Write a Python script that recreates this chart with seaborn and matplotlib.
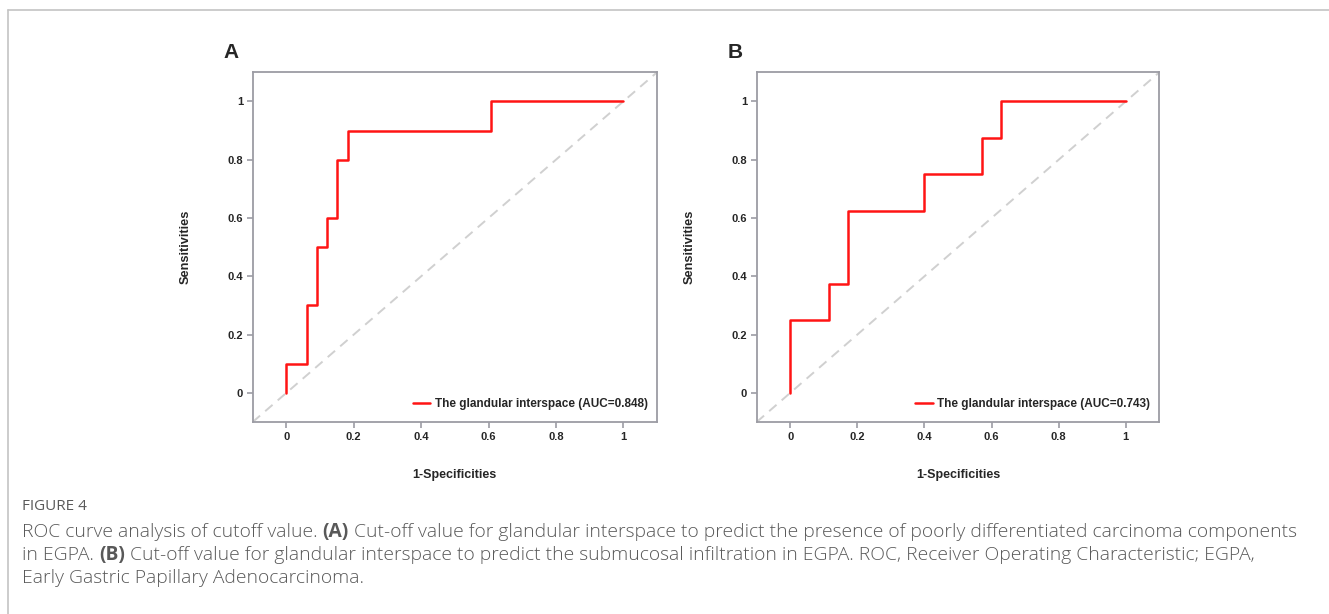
import numpy as np
import pandas as pd
import seaborn as sns
import matplotlib.pyplot as plt
from matplotlib.lines import Line2D

# ROC points (1-specificity, sensitivity)
fpr_a = [0, 0, 0.0606, 0.0606, 0.0909, 0.0909, 0.1212, 0.1212, 0.1515, 0.1515, 0.1818, 0.1818, 0.6061, 0.6061, 1.0]
tpr_a = [0, 0.1, 0.1, 0.3, 0.3, 0.5, 0.5, 0.6, 0.6, 0.8, 0.8, 0.9, 0.9, 1.0, 1.0]
fpr_b = [0, 0, 0.1143, 0.1143, 0.1714, 0.1714, 0.4, 0.4, 0.5714, 0.5714, 0.6286, 0.6286, 1.0]
tpr_b = [0, 0.25, 0.25, 0.375, 0.375, 0.625, 0.625, 0.75, 0.75, 0.875, 0.875, 1.0, 1.0]
auc_vals = [0.848, 0.743]
panel_letters = ['A', 'B']
tick_vals = [0, 0.2, 0.4, 0.6, 0.8, 1]
tick_labels = ['0', '0.2', '0.4', '0.6', '0.8', '1']

caption_title = 'FIGURE 4'
caption_lines = [
    [('ROC curve analysis of cutoff value.', False), ('(A)', True),
     ('Cut-off value for glandular interspace to predict the presence of poorly differentiated carcinoma components', False)],
    [('in EGPA.', False), ('(B)', True),
     ('Cut-off value for glandular interspace to predict the submucosal infiltration in EGPA. ROC, Receiver Operating Characteristic; EGPA,', False)],
    [('Early Gastric Papillary Adenocarcinoma.', False)],
]

sns.set_style('ticks')
plt.rcParams['font.family'] = ['Liberation Sans', 'DejaVu Sans']

W, H = 1329, 614
fig = plt.figure(figsize=(W / 100, H / 100), dpi=100)

def px(x, y):
    return x / W, 1 - y / H

axes_px = [(252.7, 72.3, 657.0, 422.0), (756.7, 72.3, 1159.3, 422.0)]
letter_px = [(231, 52), (735, 52)]
spine_col = '#9c9ca4'

for i, (fpr, tpr) in enumerate([(fpr_a, tpr_a), (fpr_b, tpr_b)]):
    x0, y0, x1, y1 = axes_px[i]
    ax = fig.add_axes([x0 / W, 1 - y1 / H, (x1 - x0) / W, (y1 - y0) / H])
    df = pd.DataFrame({'fpr': fpr, 'tpr': tpr})
    ax.plot([-0.1, 1.1], [-0.1, 1.1], color='#d0d0d0', lw=1.4, ls=(0, (5, 3.5)), zorder=1)
    sns.lineplot(data=df, x='fpr', y='tpr', sort=False, estimator=None, color='#ff1414', lw=1.8,
                 ax=ax, label='The glandular interspace (AUC={0:.3f})'.format(auc_vals[i]), zorder=3)
    ax.set_xlim(-0.1, 1.1)
    ax.set_ylim(-0.1, 1.1)
    ax.set_xticks(tick_vals)
    ax.set_xticklabels(tick_labels)
    ax.set_yticks(tick_vals)
    ax.set_yticklabels(tick_labels)
    for lab in ax.get_xticklabels() + ax.get_yticklabels():
        lab.set_fontweight('bold')
    ax.tick_params(axis='both', labelsize=8, length=4, width=1.2, color=spine_col, pad=3)
    for sp in ax.spines.values():
        sp.set_color(spine_col)
        sp.set_linewidth(1.3)
    ax.set_xlabel('1-Specificities', fontsize=9, fontweight='bold')
    ax.set_ylabel('Sensitivities', fontsize=9.2, fontweight='bold')
    ax.xaxis.set_label_coords(0.5, -0.133)
    ax.yaxis.set_label_coords(-0.151, 0.5)
    leg = ax.legend(loc='lower right', bbox_to_anchor=(0.978, 0.035), frameon=False, borderpad=0,
                    borderaxespad=0, handlelength=1.5, handletextpad=0.4, prop={'size': 8.5, 'weight': 'bold'})
    lx, ly = px(*letter_px[i])
    fig.text(lx, ly, panel_letters[i], fontsize=15, fontweight='bold', ha='center', va='center')

# frame lines of the page
border = '#c4c4c4'
fig.add_artist(Line2D([7.5 / W, 1], [1 - 9.5 / H, 1 - 9.5 / H], color=border, lw=1.2))
fig.add_artist(Line2D([7.5 / W, 7.5 / W], [0, 1 - 9.5 / H], color=border, lw=1.2))

# caption
cap_col = '#595959'
cap_font = ['Open Sans', 'DejaVu Sans']
cap_size = 13.9
tx, ty = px(22, 507)
fig.text(tx, ty, caption_title, fontsize=11, color=cap_col, family=cap_font, va='center')

fig.canvas.draw()
renderer = fig.canvas.get_renderer()

def text_w(s, bold):
    t = fig.text(0, 0, s, fontsize=cap_size, family=cap_font, fontweight='bold' if bold else 'light')
    w = t.get_window_extent(renderer).width
    t.remove()
    return w

space_w = text_w('a a', False) - text_w('aa', False)
line_y = [532, 555, 578]
for parts, yy in zip(caption_lines, line_y):
    xx = 22
    for s, bold in parts:
        fx, fy = px(xx, yy)
        fig.text(fx, fy, s, fontsize=cap_size, family=cap_font, color=cap_col,
                 fontweight='bold' if bold else 'light', va='center')
        xx += text_w(s, bold) + space_w

fig.savefig('out.png', dpi=100)
